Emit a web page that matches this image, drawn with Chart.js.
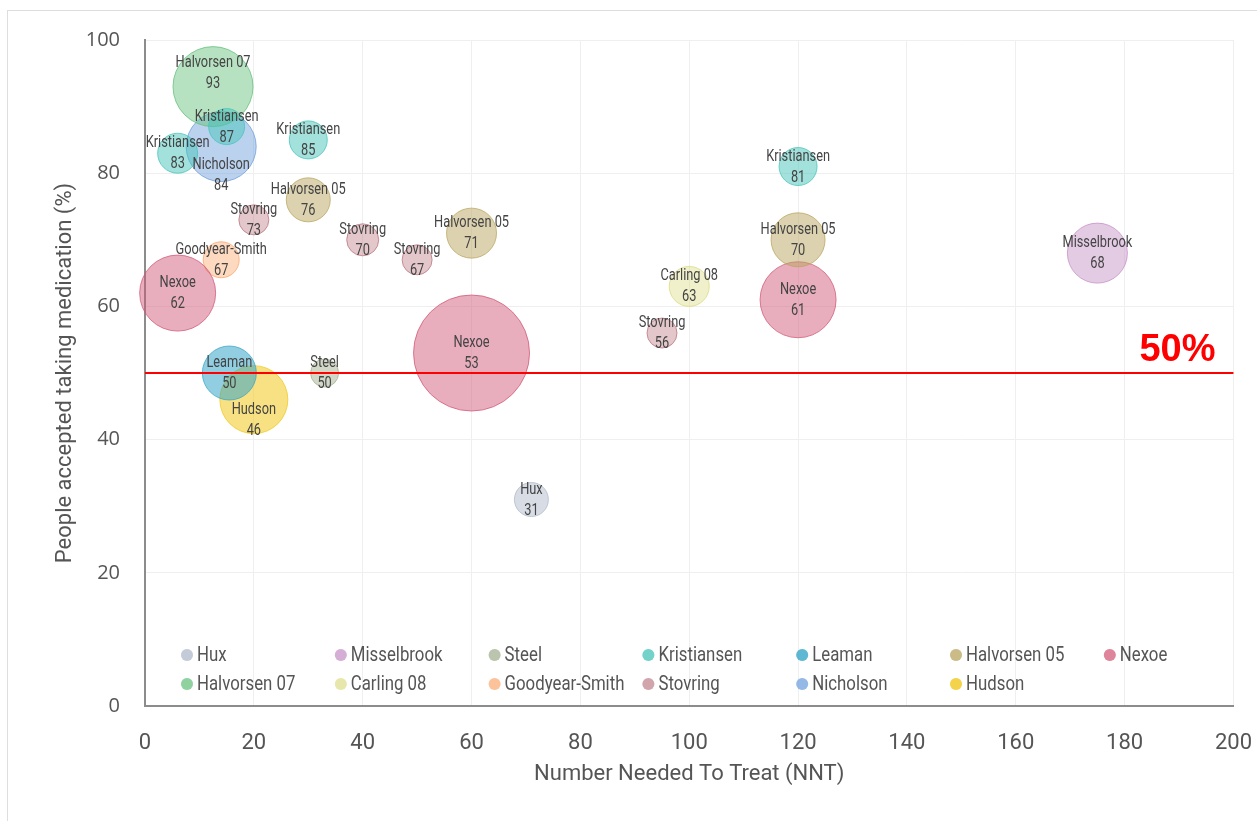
<!DOCTYPE html>
<html>
<head>
<meta charset="utf-8">
<title>NNT vs acceptance</title>
<script src="https://cdn.jsdelivr.net/npm/chart.js@4.4.1/dist/chart.umd.min.js"></script>
<style>
  html, body { margin: 0; padding: 0; background: #fff; overflow: hidden; }
  #frame { position: absolute; left: 7px; top: 10px; width: 1260px; height: 830px; border: 1px solid #dedede; box-sizing: border-box; }
  #wrap { position: absolute; left: 0; top: 0; width: 1257px; height: 821px; overflow: hidden; }
</style>
</head>
<body>
<div id="frame"></div>
<div id="wrap"><canvas id="myChart" width="1276" height="821"></canvas></div>
<script>
// studies, in legend order
let studies = ['Hux', 'Misselbrook', 'Steel', 'Kristiansen', 'Leaman', 'Halvorsen 05', 'Nexoe',
               'Halvorsen 07', 'Carling 08', 'Goodyear-Smith', 'Stovring', 'Nicholson', 'Hudson'];

// one entry per bubble
let pointStudy = ['Hux', 'Misselbrook', 'Steel',
                  'Kristiansen', 'Kristiansen', 'Kristiansen', 'Kristiansen',
                  'Leaman',
                  'Halvorsen 05', 'Halvorsen 05', 'Halvorsen 05',
                  'Nexoe', 'Nexoe', 'Nexoe',
                  'Halvorsen 07', 'Carling 08', 'Goodyear-Smith',
                  'Stovring', 'Stovring', 'Stovring', 'Stovring',
                  'Nicholson', 'Hudson'];
let nnt      = [71, 175, 33,  6, 15, 30, 120,  15.5,  30, 60, 120,  6, 60, 120,  12.5, 100, 14,  20, 40, 50, 95,  14, 20];
let accepted = [31,  68, 50, 83, 87, 85,  81,  50,    76, 71,  70, 62, 53,  61,  93,    63,  67,  73, 70, 67, 56,  84, 46];
let bubble   = [17,  30, 14, 20, 18, 19,  19,  27,    22, 25,  27, 38, 58,  38,  40,    20,  18,  15, 16, 15, 15,  35, 34];

let xTicks = [0, 20, 40, 60, 80, 100, 120, 140, 160, 180, 200];
let yTicks = [0, 20, 40, 60, 80, 100];
let refLine = 50;

let colors = {
    'Hux': 'rgba(175, 186, 204, 0.5)',
    'Misselbrook': 'rgba(196, 140, 196, 0.45)',
    'Steel': 'rgba(165, 178, 145, 0.5)',
    'Kristiansen': 'rgba(70, 195, 185, 0.5)',
    'Leaman': 'rgba(55, 165, 200, 0.55)',
    'Halvorsen 05': 'rgba(185, 165, 95, 0.5)',
    'Nexoe': 'rgba(208, 85, 118, 0.48)',
    'Halvorsen 07': 'rgba(95, 190, 120, 0.45)',
    'Carling 08': 'rgba(218, 218, 125, 0.4)',
    'Goodyear-Smith': 'rgba(250, 165, 105, 0.42)',
    'Stovring': 'rgba(185, 115, 125, 0.4)',
    'Nicholson': 'rgba(105, 155, 220, 0.45)',
    'Hudson': 'rgba(240, 200, 30, 0.55)'
};

let condensed = "Roboto, 'Open Sans', sans-serif";

let datasets = studies.map(name => {
    let pts = [];
    pointStudy.forEach((s, i) => {
        if (s === name) pts.push({ x: nnt[i], y: accepted[i], r: bubble[i] });
    });
    return {
        label: name,
        data: pts,
        backgroundColor: colors[name],
        borderColor: colors[name].replace(/[\d.]+\)$/, '0.75)'),
        borderWidth: 1
    };
});

// narrow text: squeeze horizontally to mimic a condensed face
function narrowText(ctx, text, x, y, squeeze) {
    ctx.save();
    ctx.translate(x, y);
    ctx.scale(squeeze, 1);
    ctx.fillText(text, 0, 0);
    ctx.restore();
}

// labels on bubbles: study name and value
let labelNudge = { 'Halvorsen 07': -14, 'Nicholson': 28, 'Hudson': 20 };

let bubbleLabels = {
    id: 'bubbleLabels',
    afterDatasetsDraw(chart) {
        let ctx = chart.ctx;
        ctx.save();
        ctx.font = '16px ' + condensed;
        ctx.fillStyle = '#444';
        ctx.textAlign = 'center';
        ctx.textBaseline = 'middle';
        chart.data.datasets.forEach((ds, di) => {
            let meta = chart.getDatasetMeta(di);
            meta.data.forEach((el, pi) => {
                let shift = labelNudge[ds.label] || 0;
                narrowText(ctx, ds.label, el.x, el.y - 10 + shift, 0.8);
                narrowText(ctx, String(ds.data[pi].y), el.x, el.y + 11 + shift, 0.8);
            });
        });
        ctx.restore();
    }
};

let threshold = {
    id: 'threshold',
    afterDatasetsDraw(chart) {
        let ctx = chart.ctx;
        let area = chart.chartArea;
        let y = chart.scales.y.getPixelForValue(refLine);
        ctx.save();
        ctx.strokeStyle = '#ff0000';
        ctx.lineWidth = 2;
        ctx.beginPath();
        ctx.moveTo(area.left, y);
        ctx.lineTo(area.right, y);
        ctx.stroke();
        ctx.font = "bold 38px 'Liberation Sans', Arial, sans-serif";
        ctx.fillStyle = '#ff0000';
        ctx.textAlign = 'right';
        ctx.textBaseline = 'alphabetic';
        ctx.fillText(refLine + '%', area.right - 18, y - 12);
        ctx.restore();
    }
};

// legend drawn inside the plot, 7 columns
let insideLegend = {
    id: 'insideLegend',
    afterDraw(chart) {
        let ctx = chart.ctx;
        let area = chart.chartArea;
        ctx.save();
        ctx.font = '21px ' + condensed;
        ctx.textBaseline = 'middle';
        ctx.textAlign = 'left';
        chart.data.datasets.forEach((ds, i) => {
            let col = i % 7;
            let row = Math.floor(i / 7);
            let cx = area.left + 42 + col * 153.8;
            let cy = area.bottom - 51 + row * 29;
            ctx.beginPath();
            ctx.arc(cx, cy, 6, 0, Math.PI * 2);
            ctx.fillStyle = ds.backgroundColor;
            ctx.fill();
            ctx.fill();
            ctx.fillStyle = '#555';
            narrowText(ctx, ds.label, cx + 10, cy + 1, 0.8);
        });
        ctx.restore();
    }
};

let ctx = document.getElementById('myChart').getContext('2d');

let myChart = new Chart(ctx, {
    type: 'bubble',
    data: { datasets: datasets },
    plugins: [bubbleLabels, threshold, insideLegend],
    options: {
        responsive: false,
        animation: false,
        events: [],
        layout: { autoPadding: false, padding: { left: 40, right: 5, top: 40, bottom: 20 } },
        clip: false,
        scales: {
            x: {
                type: 'linear',
                min: xTicks[0],
                max: xTicks[xTicks.length - 1],
                afterBuildTicks: s => { s.ticks = xTicks.map(v => ({ value: v })); },
                afterFit: s => { s.height = 95; },
                grid: { color: '#efefef', drawTicks: false },
                border: { color: '#8c8c8c', width: 2 },
                ticks: {
                    padding: 24,
                    color: '#555',
                    font: { size: 22, family: condensed }
                },
                title: {
                    display: true,
                    text: 'Number Needed To Treat (NNT)',
                    color: '#555',
                    font: { size: 22, family: condensed },
                    padding: { top: 0, bottom: 13 }
                }
            },
            y: {
                type: 'linear',
                min: yTicks[0],
                max: yTicks[yTicks.length - 1],
                afterBuildTicks: s => { s.ticks = yTicks.map(v => ({ value: v })); },
                afterFit: s => { s.width = 105; },
                grid: { color: '#efefef', drawTicks: false },
                border: { color: '#8c8c8c', width: 2 },
                ticks: {
                    padding: 25,
                    color: '#555',
                    font: { size: 20, family: "'Open Sans', sans-serif" }
                },
                title: {
                    display: true,
                    text: 'People accepted taking medication (%)',
                    color: '#555',
                    font: { size: 22, family: condensed },
                    padding: { top: 12, bottom: 0 }
                }
            }
        },
        plugins: {
            legend: { display: false },
            tooltip: { enabled: false }
        }
    }
});
</script>
</body>
</html>
